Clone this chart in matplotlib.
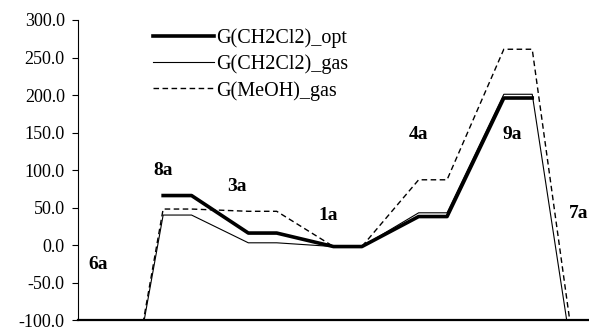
import numpy as np
import matplotlib
matplotlib.use('Agg')
import matplotlib.pyplot as plt

plt.rcParams['font.family'] = ['Liberation Serif', 'DejaVu Serif']

# Species along the reaction path (each one is a plateau)
states = ['6a', '8a', '3a', '1a', '4a', '9a', '7a']

# Free energies (6a and 7a lie below the axis)
g_ch2cl2_opt = [np.nan, 66, 16, -2, 38, 196, np.nan]
g_ch2cl2_gas = [-380, 40, 3, -2, 43, 201, -295]
g_meoh_gas = [-380, 48, 45, -2, 87, 261, -286]

# Label positions (category units, energy)
label_x = [0.7, 3.0, 5.6, 8.8, 12.0, 15.3, 17.65]
label_y = [-26, 99, 78, 40, 148, 148, 42]


def plateau(values, step=3):
    # each state is drawn as a flat segment one category wide
    xs, ys = [], []
    for i, v in enumerate(values):
        xs += [i * step, i * step + 1]
        ys += [v, v]
    return xs, ys


fig = plt.figure(figsize=(5.89, 3.31), dpi=100)
ax = fig.add_axes([0.1324, 0.033, 0.8676, 0.9066])

x, y = plateau(g_ch2cl2_opt)
ax.plot(x, y, color='black', lw=2.6, label='G(CH2Cl2)_opt')
x, y = plateau(g_ch2cl2_gas)
ax.plot(x, y, color='black', lw=0.8, label='G(CH2Cl2)_gas')
x, y = plateau(g_meoh_gas)
ax.plot(x, y, color='black', lw=1.0, dashes=(4, 2.5), label='G(MeOH)_gas')

for s, lx, ly in zip(states, label_x, label_y):
    ax.text(lx, ly, s, fontsize=14, fontweight='bold', ha='center', va='center')

ax.set_xlim(0, 18)
ax.set_ylim(-100, 300)
ax.set_yticks(np.arange(-100, 301, 50))
ax.set_yticklabels(['%.1f' % v for v in np.arange(-100, 301, 50)])
ax.set_xticks([])
ax.tick_params(axis='y', labelsize=13, direction='out', length=4.5, width=0.8, pad=5)

for side in ['top', 'right']:
    ax.spines[side].set_visible(False)
ax.spines['left'].set_linewidth(0.8)
ax.spines['bottom'].set_linewidth(1.6)

ax.legend(loc='upper left', bbox_to_anchor=(0.132, 1.0), frameon=False,
          fontsize=14.5, handlelength=3.0, handletextpad=0.1, labelspacing=0.33,
          borderaxespad=0)

fig.savefig('out.png', dpi=100)
